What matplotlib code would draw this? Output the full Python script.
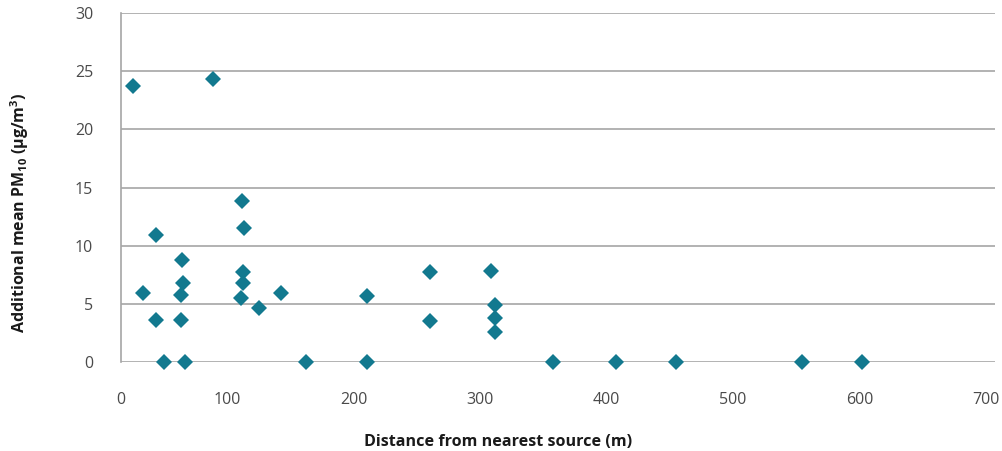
import matplotlib
matplotlib.use("Agg")
import matplotlib.pyplot as plt

plt.rcParams['font.family'] = ['Open Sans', 'DejaVu Sans']
plt.rcParams['mathtext.fontset'] = 'custom'
plt.rcParams['mathtext.rm'] = 'Open Sans:bold'
plt.rcParams['mathtext.default'] = 'rm'

# Data
distance_m = [25.7, 88.9, 111.9, 113.4, 43.9, 64.4, 65.2, 63.6, 33.6, 43.9,
              63.6, 50.2, 66.8, 112.6, 112.6, 111.0, 125.3, 142.7, 162.5, 210.7,
              210.7, 260.5, 260.5, 308.7, 311.9, 311.9, 311.9, 357.7, 407.5, 455.0,
              554.5, 602.0]
pm10_add = [23.7, 24.3, 13.8, 11.5, 10.9, 8.8, 6.8, 5.8, 5.9, 3.6,
            3.6, 0.0, 0.0, 7.7, 6.8, 5.5, 4.6, 5.9, 0.0, 5.7,
            0.0, 7.7, 3.5, 7.8, 4.9, 3.8, 2.6, 0.0, 0.0, 0.0,
            0.0, 0.0]
x_tick_values = [100, 200, 300, 400, 500, 600, 700]
y_tick_values = [0, 5, 10, 15, 20, 25, 30]

W, H = 1003, 451
fig = plt.figure(figsize=(W / 100, H / 100), dpi=100)
ax = fig.add_axes([121 / W, 1 - 362 / H, (995 - 121) / W, (362 - 13) / H])

x_left = 16.2
ax.set_xlim(x_left, 707)
ax.set_ylim(0, 30)

grid_color = '#a6a6a6'
ax.set_yticks(y_tick_values)
ax.yaxis.grid(True, color=grid_color, linewidth=1.2)
ax.set_axisbelow(True)
for s in ['top', 'right', 'bottom']:
    ax.spines[s].set_visible(False)
ax.spines['left'].set_color(grid_color)
ax.spines['left'].set_linewidth(1.2)

ax.set_xticks([x_left] + x_tick_values)
ax.set_xticklabels(['0'] + [str(v) for v in x_tick_values])
ax.tick_params(axis='both', length=0, labelsize=11.5, labelcolor='#4a4a4a')
ax.tick_params(axis='y', pad=20)
ax.tick_params(axis='x', pad=21.5)

ax.plot(distance_m, pm10_add, linestyle='none', marker='D', markersize=8.6,
        color='#12798f', markeredgewidth=0, clip_on=False, zorder=3)

fig.text(498 / W, 1 - 442 / H, 'Distance from nearest source (m)', ha='center',
         va='center', fontsize=11.6, fontweight='bold', color='#1a1a1a')
fig.text(20 / W, 1 - 213 / H, r'Additional mean PM$_{10}$ ($\mathregular{\mu}$g/m$^{3}$)',
         ha='center', va='center', rotation=90, fontsize=11.5, fontweight='bold',
         color='#1a1a1a')

fig.savefig('out.png', dpi=100)
